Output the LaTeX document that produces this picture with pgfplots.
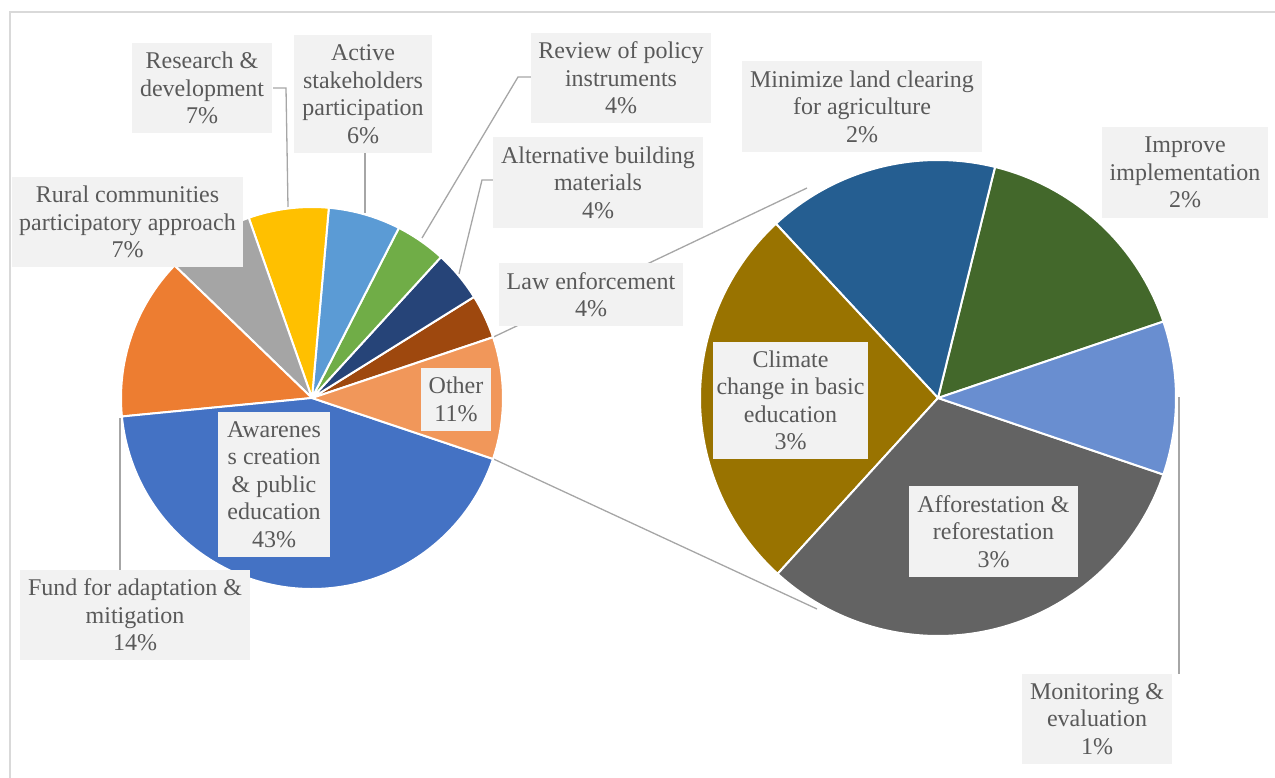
\documentclass[border=0pt]{standalone}
\usepackage{fontspec}
\setmainfont{Liberation Serif}
\usepackage{pgfplots}
\pgfplotsset{compat=1.18}
\usepackage{pgfplotstable}

\definecolor{cAw}{HTML}{4472C4}
\definecolor{cFund}{HTML}{ED7D31}
\definecolor{cRur}{HTML}{A5A5A5}
\definecolor{cRes}{HTML}{FFC000}
\definecolor{cAct}{HTML}{5B9BD5}
\definecolor{cRev}{HTML}{70AD47}
\definecolor{cAlt}{HTML}{264478}
\definecolor{cLaw}{HTML}{9E480E}
\definecolor{cOth}{HTML}{F1975A}
\definecolor{cMin}{HTML}{255E91}
\definecolor{cImp}{HTML}{43682B}
\definecolor{cMon}{HTML}{698ED0}
\definecolor{cAff}{HTML}{636363}
\definecolor{cCli}{HTML}{997300}
\definecolor{boxc}{HTML}{F2F2F2}
\definecolor{txtc}{HTML}{595959}
\definecolor{linec}{HTML}{A6A6A6}
\definecolor{framec}{HTML}{D9D9D9}

% main pie (percent of total), counter-clockwise from the upper edge of "Other"
\pgfplotstableread{
name value col
Law 3.72 cLaw
Alternative 4.33 cAlt
Review 4.28 cRev
Active 6.11 cAct
Research 6.78 cRes
Rural 7.42 cRur
Fund 13.75 cFund
Awareness 43.29 cAw
Other 10.32 cOth
}\leftpie

% secondary pie (breakdown of "Other"), counter-clockwise
\pgfplotstableread{
name value col
Improve 1.645 cImp
Minimize 1.628 cMin
Climate 2.715 cCli
Afforestation 3.257 cAff
Monitoring 1.075 cMon
}\rightpie

% #1 table, #2 cx, #3 cy, #4 radius, #5 start angle, #6 total
\newcommand\drawpie[6]{%
  \pgfplotstablegetrowsof{#1}%
  \pgfmathtruncatemacro\nrows{\pgfplotsretval-1}%
  \xdef\curang{#5}%
  \foreach \i in {0,...,\nrows}{%
    \pgfplotstablegetelem{\i}{value}\of{#1}\let\v\pgfplotsretval
    \pgfplotstablegetelem{\i}{col}\of{#1}\let\c\pgfplotsretval
    \pgfmathsetmacro\endang{\curang+\v/#6*360}%
    \fill[fill=\c,draw=white,line width=2pt,line join=round]
      (axis cs:#2,#3) -- ++(\curang:#4pt)
      arc[start angle=\curang,end angle=\endang,radius=#4pt] -- cycle;
    \xdef\curang{\endang}%
  }%
}

\newcommand\lblfont{\fontsize{24}{27.5}\selectfont}
% #1 x1, #2 y1, #3 x2, #4 y2 (pixel box), #5 text
\newcommand\lbl[5]{%
  \pgfmathsetmacro\lx{(#1+#3)/2}\pgfmathsetmacro\ly{(#2+#4)/2}%
  \pgfmathsetmacro\lw{#3-#1}\pgfmathsetmacro\lh{#4-#2}%
  \node[fill=boxc,text=txtc,inner sep=0pt,minimum width=\lw pt,
        minimum height=\lh pt,align=center,font=\lblfont]
        at (axis cs:\lx,\ly) {#5};%
}

\begin{document}
\begin{tikzpicture}
\useasboundingbox (0,0) rectangle (1275pt,778pt);
\begin{axis}[
  at={(0,0)}, anchor=south west,
  scale only axis, width=1275pt, height=778pt,
  xmin=0, xmax=1275, ymin=0, ymax=778,
  y dir=reverse, hide axis, clip=true,
]
% chart frame
\addplot[framec, line width=1.5pt, mark=none] coordinates {(10,800) (10,12) (1300,12)};
% connector lines
\addplot[linec, line width=1.3pt, mark=none] coordinates {(493.1,337.2) (807,188)};
\addplot[linec, line width=1.3pt, mark=none] coordinates {(493.1,458.8) (817,609)};
% leader lines
\addplot[linec, line width=1.3pt, mark=none] coordinates {(273,88) (286,88) (288,207)};
\addplot[linec, line width=1.3pt, mark=none] coordinates {(365,153) (365,213)};
\addplot[linec, line width=1.3pt, mark=none] coordinates {(531,77) (518,77) (422,238)};
\addplot[linec, line width=1.3pt, mark=none] coordinates {(493,180) (482,180) (459,274)};
\addplot[linec, line width=1.3pt, mark=none] coordinates {(120,570) (120,418)};
\addplot[linec, line width=1.3pt, mark=none] coordinates {(1179,674) (1179,397)};

\pgfplotsextra{%
  \drawpie{\leftpie}{312}{398}{191}{18.575}{100}%
  \drawpie{\rightpie}{938}{398}{238}{18.75}{10.32}%
  \lbl{132}{43}{272}{133}{Research \&\\development\\7\%}%
  \lbl{294}{35}{432}{153}{Active\\stakeholders\\participation\\6\%}%
  \lbl{12}{177}{243}{267}{Rural communities\\participatory approach\\7\%}%
  \lbl{531}{33}{711}{123}{Review of policy\\instruments\\4\%}%
  \lbl{493}{137}{703}{228}{Alternative building\\materials\\4\%}%
  \lbl{499}{263}{683}{326}{Law enforcement\\4\%}%
  \lbl{421}{368}{491}{431}{Other\\11\%}%
  \lbl{218}{412}{330}{557}{Awarenes\\s creation\\\& public\\education\\43\%}%
  \lbl{20}{570}{250}{660}{Fund for adaptation \&\\mitigation\\14\%}%
  \lbl{742}{61}{982}{152}{Minimize land clearing\\for agriculture\\2\%}%
  \lbl{1102}{127}{1268}{218}{Improve\\implementation\\2\%}%
  \lbl{713}{342}{868}{459}{Climate\\change in basic\\education\\3\%}%
  \lbl{909}{486}{1078}{577}{Afforestation \&\\reforestation\\3\%}%
  \lbl{1022}{674}{1172}{764}{Monitoring \&\\evaluation\\1\%}%
}
\end{axis}
\end{tikzpicture}
\end{document}
